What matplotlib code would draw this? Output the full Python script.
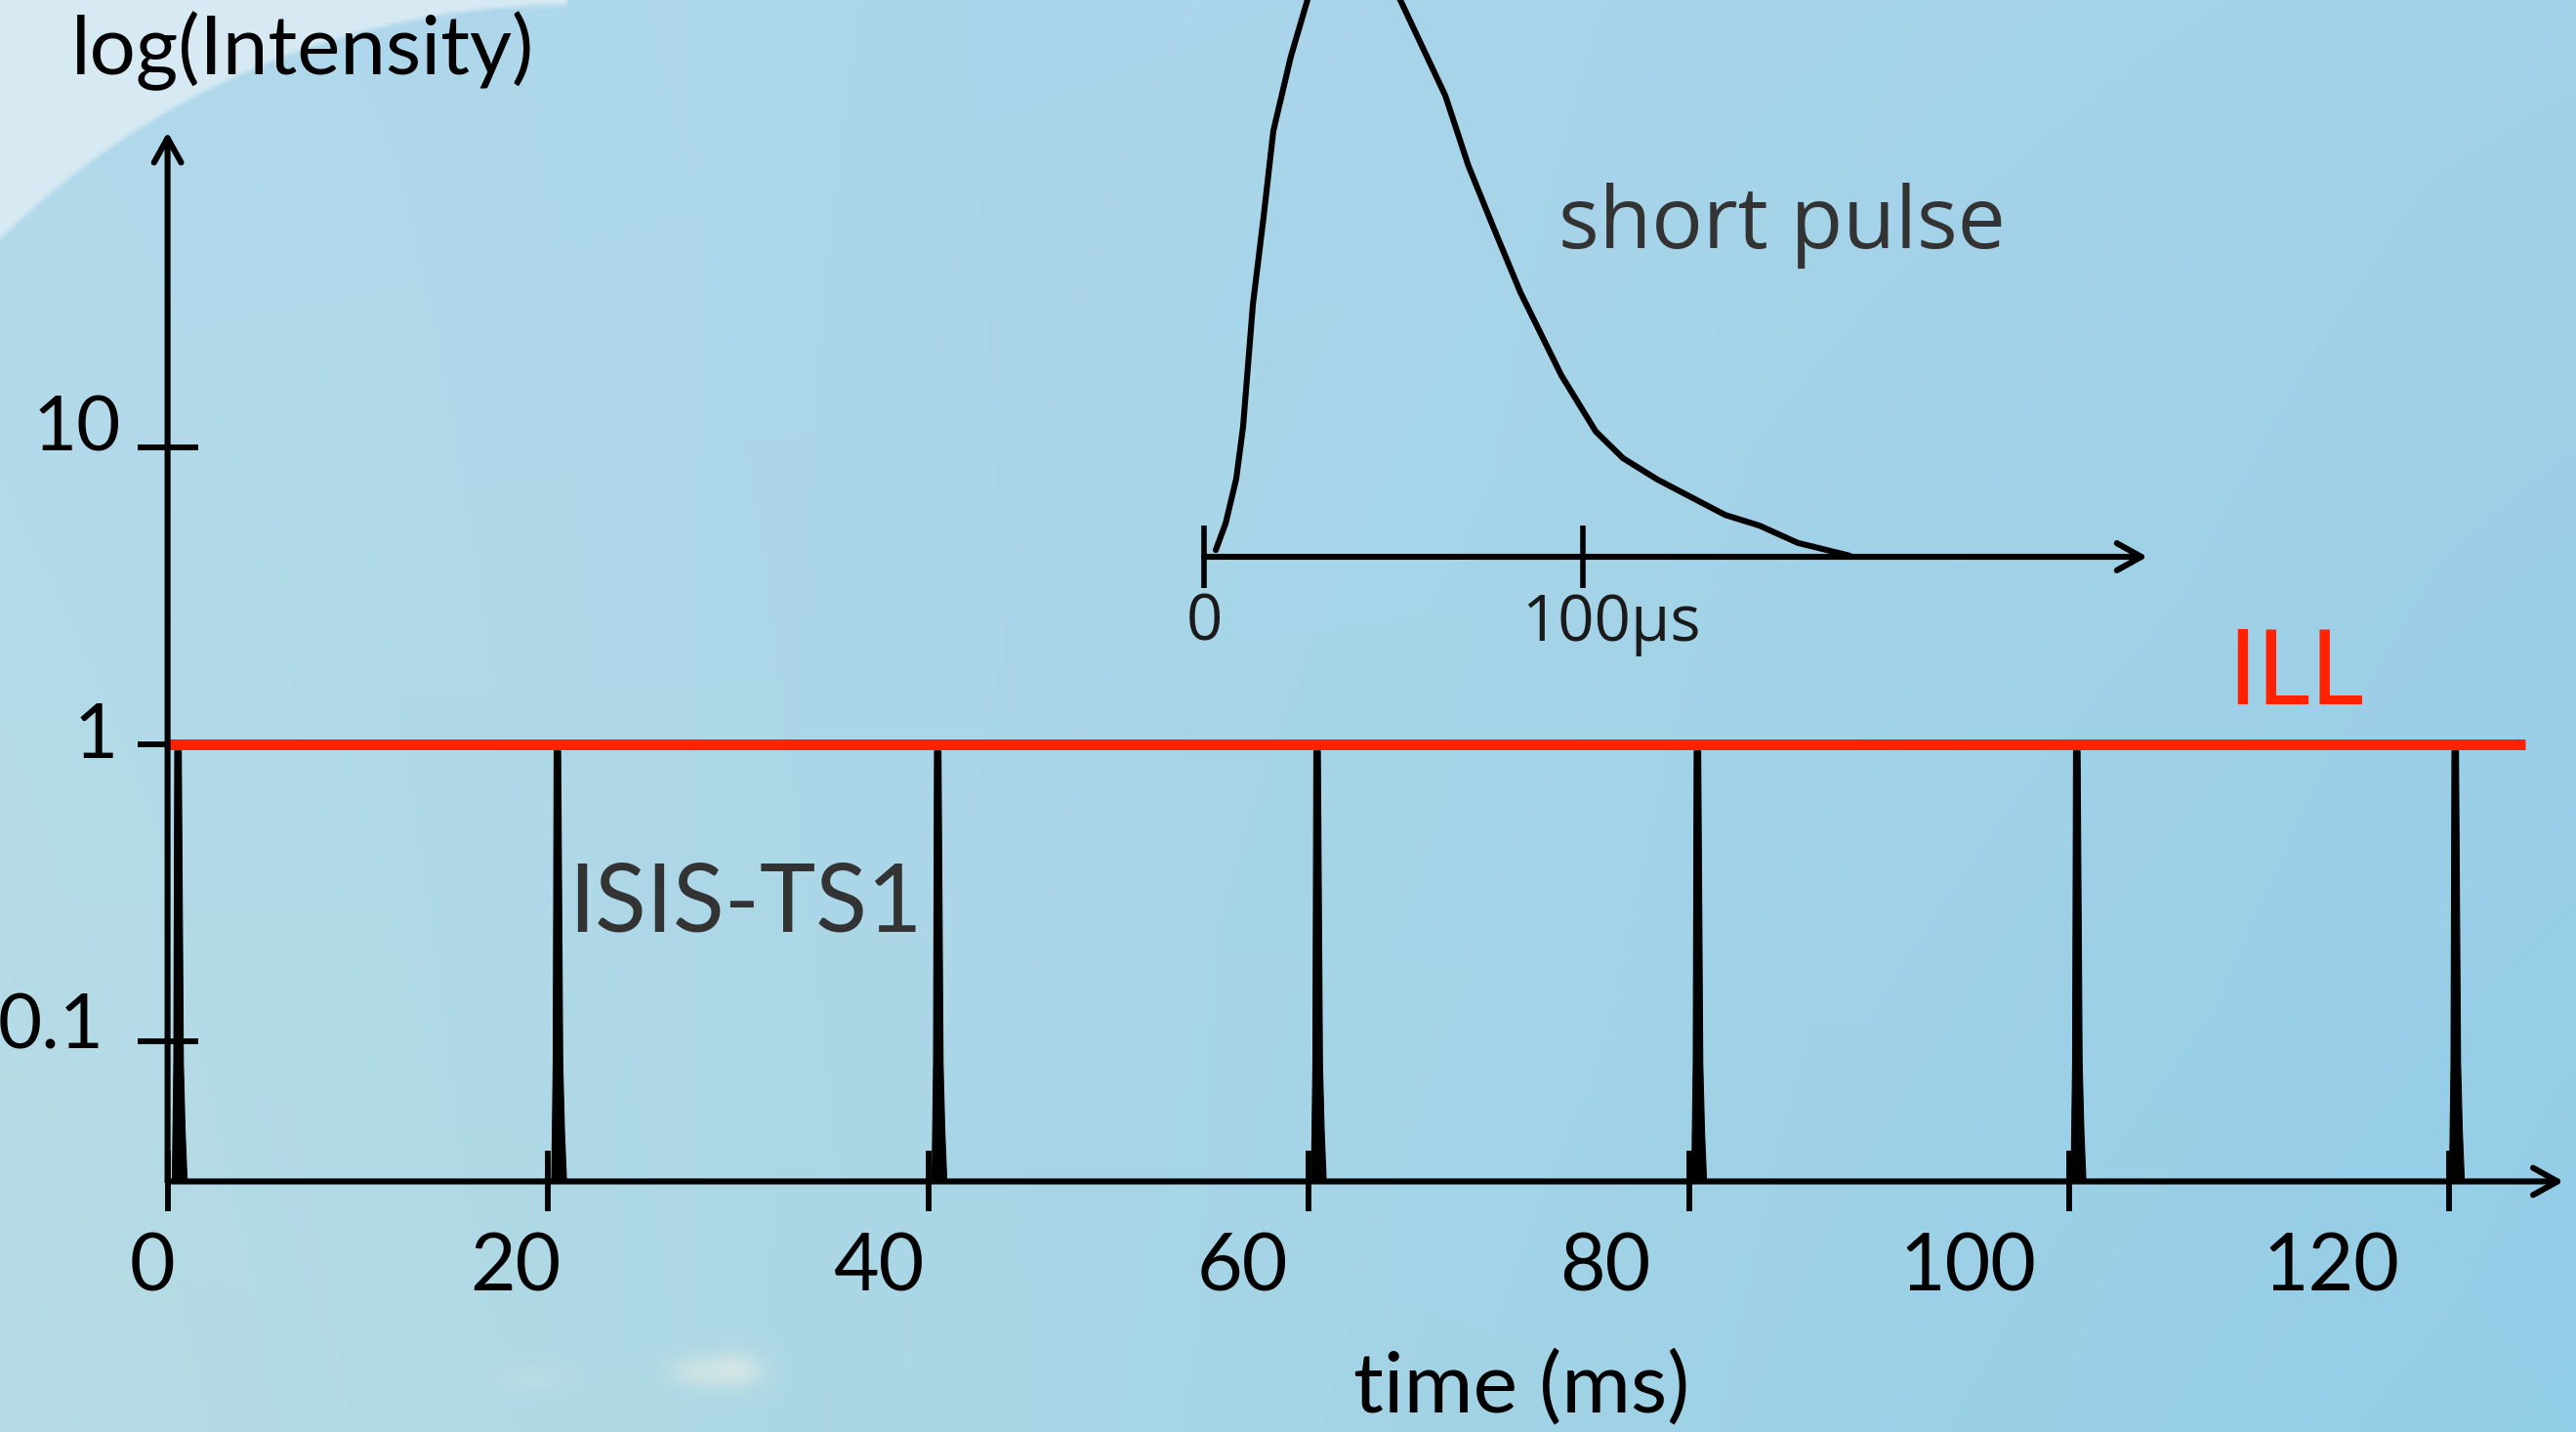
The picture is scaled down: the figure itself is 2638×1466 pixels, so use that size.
import numpy as np
import matplotlib
matplotlib.use("Agg")
import matplotlib.pyplot as plt
from matplotlib import transforms

# Data
x_ticks = [0, 20, 40, 60, 80, 100, 120]
x_tick_labels = ["0", "20", "40", "60", "80", "100", "120"]
y_ticks = [10, 1, 0.1]
y_tick_labels = ["10", "1", "0.1"]

# ISIS-TS1: one pulse every 20 ms (times of the spikes, ms)
pulse_times_ms = [0.55, 20.5, 40.5, 60.45, 80.45, 100.4, 120.3]
# shape of one spike: offset from the pulse time (ms) and intensity
spike_dt_ms = [-0.30, -0.22, -0.17, 0.17, 0.28, 0.37, 0.48]
spike_level = [0.0336, 0.084, 0.95, 0.95, 0.084, 0.05, 0.0336]

# ILL: continuous source at intensity 1
ill_level = 1.0
ill_span_ms = [0, 124]

# inset: the short pulse (time in microseconds, relative height)
pulse_t_us = [3.1, 5.7, 8.5, 10.3, 12.9, 15.7, 18.3, 22.9, 27.3, 34.0, 42.0,
              51.8, 63.7, 69.8, 76.3, 83.5, 94.3, 103.4, 110.6, 119.6, 137.6,
              146.6, 156.7, 170.4]
pulse_h = [0.012, 0.06, 0.14, 0.233, 0.453, 0.609, 0.765, 0.898, 1.0, 1.1, 1.1,
           1.0, 0.828, 0.702, 0.593, 0.475, 0.326, 0.225, 0.177, 0.139, 0.075,
           0.056, 0.025, 0.002]
inset_ticks_us = [0, 100]
inset_tick_labels = ["0", "100μs"]

# Layout (pixels of the 2638x1466 slide)
W, H = 2638, 1466
X0_PX, PX_PER_MS = 171.6, 19.474
Y1_PX, PX_PER_DECADE = 762.0, 303.65
FLOOR = 0.0336          # intensity where the time axis sits
Y_ARROW_TOP = 116.0
X_ARROW_END = 126.0
INSET_X0_PX, INSET_BASE_PX, PX_PER_US = 1233.0, 570.0, 3.88
INSET_ARROW_END = 249.0

BLACK = "#000000"
GREY = "#333333"
RED = "#ff2200"
LW = 4.4


def fx(px):
    return px / W


def fy(py):
    return 1 - py / H


def make_background():
    step = 4
    u = np.linspace(0, 1, W // step)
    v = np.linspace(0, 1, H // step)
    uu, vv = np.meshgrid(u, v)
    tl = np.array([177, 217, 236])
    tr = np.array([162, 209, 232])
    bl = np.array([183, 220, 228])
    br = np.array([146, 205, 231])
    img = (tl * ((1 - uu) * (1 - vv))[..., None] + tr * (uu * (1 - vv))[..., None]
           + bl * ((1 - uu) * vv)[..., None] + br * (uu * vv)[..., None])

    # lighter area beyond a big curved edge in the top-left corner
    px = uu * W
    py = vv * H
    cx, cy, r = 580.0, 827.0, 822.0
    d = np.hypot(px - cx, py - cy)
    corner = (px < cx) & (py < cy)
    light = (np.clip((d - r) / 4.0, 0, 1) * corner)[..., None]
    img = img * (1 - light) + np.array([215, 234, 243]) * light

    # small clouds near the bottom
    for bx, by, sx, sy, a in [(712, 1406, 20, 12, 0.45), (752, 1404, 20, 13, 0.6),
                              (545, 1412, 26, 10, 0.2)]:
        g = a * np.exp(-((px - bx) ** 2 / (2 * sx ** 2) + (py - by) ** 2 / (2 * sy ** 2)))
        img = img * (1 - g[..., None]) + np.array([236, 238, 226]) * g[..., None]
    return np.clip(img / 255.0, 0, 1)


fig = plt.figure(figsize=(W / 100, H / 100), dpi=100)

bg = fig.add_axes([0, 0, 1, 1])
bg.imshow(make_background(), extent=(0, W, H, 0), aspect="auto", interpolation="bilinear")
bg.set_xlim(0, W)
bg.set_ylim(H, 0)
bg.axis("off")

# main axes, mapped onto the whole slide
ax = fig.add_axes([0, 0, 1, 1])
ax.set_facecolor("none")
ax.set_yscale("log")
ax.set_xlim(-X0_PX / PX_PER_MS, (W - X0_PX) / PX_PER_MS)
ax.set_ylim(10 ** ((Y1_PX - H) / PX_PER_DECADE), 10 ** (Y1_PX / PX_PER_DECADE))
ax.axis("off")

arrow = dict(arrowstyle="->,head_length=0.45,head_width=0.25", lw=LW, color=BLACK,
             shrinkA=0, shrinkB=0, mutation_scale=40)
ax.annotate("", xy=(X_ARROW_END, FLOOR), xytext=(0, FLOOR), arrowprops=arrow)
ax.annotate("", xy=(0, Y_ARROW_TOP), xytext=(0, FLOOR), arrowprops=arrow)

ax.plot(x_ticks, [FLOOR] * len(x_ticks), ls="none", marker="|", ms=45, mew=4.2,
        color=BLACK)
ax.plot([0] * len(y_ticks), y_ticks, ls="none", marker="_", ms=45, mew=4.2,
        color=BLACK)

# ILL flat line
ax.plot(ill_span_ms, [ill_level, ill_level], color=RED, lw=7.9,
        solid_capstyle="butt", zorder=2)

# ISIS spikes
for t in pulse_times_ms:
    ax.fill([t + d for d in spike_dt_ms], spike_level, facecolor=BLACK,
            edgecolor=BLACK, lw=0.8, joinstyle="round", zorder=3)

# tick labels (the label row on the slide is slightly compressed)
lab_trans = transforms.blended_transform_factory(ax.transData, fig.transFigure)
for t, lab in zip(x_ticks, x_tick_labels):
    ax.text(t * 0.955 - 0.8, fy(1321), lab, transform=lab_trans, ha="center",
            va="baseline", fontsize=58, family=["Lato", "DejaVu Sans"], color=BLACK)

for lab, (cx, by) in zip(y_tick_labels, [(79, 462), (98, 776), (52, 1074)]):
    fig.text(fx(cx), fy(by), lab, ha="center", va="baseline", fontsize=56,
             family=["Lato", "DejaVu Sans"], color=BLACK)

fig.text(fx(310), fy(76), "log(Intensity)", ha="center", va="baseline",
         fontsize=60, family=["Lato", "DejaVu Sans"], color=BLACK)
fig.text(fx(1558), fy(1445), "time (ms)", ha="center", va="baseline",
         fontsize=62, family=["Lato", "DejaVu Sans"], color=BLACK)
fig.text(fx(763), fy(953), "ISIS-TS1", ha="center", va="baseline",
         fontsize=70, family=["Lato", "DejaVu Sans"], color=GREY)
fig.text(fx(2351), fy(721), "ILL", ha="center", va="baseline",
         fontsize=77, family=["Lato", "DejaVu Sans"], color=RED)
fig.text(fx(1825), fy(254), "short pulse", ha="center", va="baseline",
         fontsize=63, family=["Open Sans", "DejaVu Sans"], color=GREY)

# inset with a single short pulse
ins = fig.add_axes([fx(INSET_X0_PX), fy(INSET_BASE_PX), 1 - fx(INSET_X0_PX),
                    INSET_BASE_PX / H])
ins.set_facecolor("none")
ins.set_xlim(0, (W - INSET_X0_PX) / PX_PER_US)
ins.set_ylim(0, 1)
ins.axis("off")
ins.plot(pulse_t_us, pulse_h, color=BLACK, lw=LW, solid_joinstyle="round",
         solid_capstyle="round")
ins.annotate("", xy=(INSET_ARROW_END, 0), xytext=(0, 0), arrowprops=arrow,
             annotation_clip=False)
ins.plot(inset_ticks_us, [0] * len(inset_ticks_us), ls="none", marker="|", ms=46,
         mew=4.0, color=BLACK, clip_on=False)
for cx, lab in zip([1233, 1650], inset_tick_labels):
    fig.text(fx(cx), fy(656), lab, ha="center", va="baseline", fontsize=47,
             family=["Open Sans", "DejaVu Sans"], color="#1a1a1a")

fig.savefig("out.png", dpi=100)
